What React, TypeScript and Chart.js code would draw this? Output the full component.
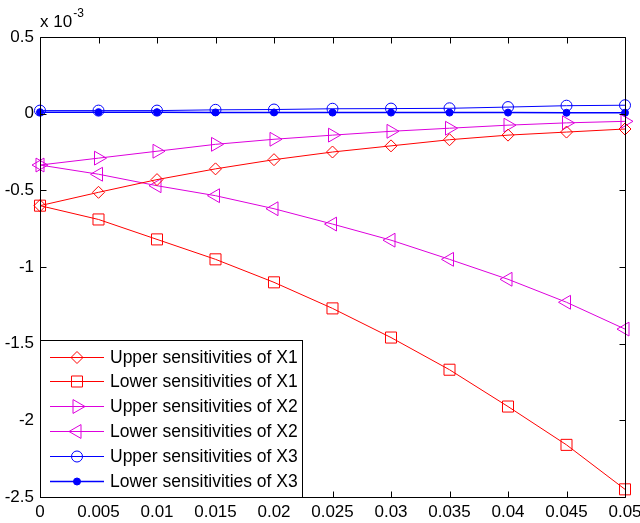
import React, { useEffect, useRef } from "react";
import { Chart, registerables } from "chart.js";
import { drawPoint } from "chart.js/helpers";

Chart.register(...registerables);

// x values (step sizes)
const xValues = [0, 0.005, 0.01, 0.015, 0.02, 0.025, 0.03, 0.035, 0.04, 0.045, 0.05];
// y values in units of 1e-3
const upperX1 = [-0.6, -0.513, -0.43, -0.36, -0.3, -0.25, -0.21, -0.17, -0.14, -0.12, -0.1];
const lowerX1 = [-0.6, -0.69, -0.82, -0.95, -1.1, -1.27, -1.46, -1.67, -1.91, -2.16, -2.45];
const upperX2 = [-0.335, -0.29, -0.245, -0.2, -0.167, -0.14, -0.115, -0.095, -0.075, -0.06, -0.05];
const lowerX2 = [-0.335, -0.395, -0.47, -0.535, -0.62, -0.72, -0.825, -0.95, -1.08, -1.23, -1.405];
const upperX3 = [0.02, 0.02, 0.02, 0.025, 0.027, 0.032, 0.033, 0.035, 0.043, 0.052, 0.055];
const lowerX3 = [0.01, 0.01, 0.01, 0.008, 0.008, 0.007, 0.007, 0.007, 0.007, 0.006, 0.006];

const seriesLabels = [
  "Upper sensitivities of X1",
  "Lower sensitivities of X1",
  "Upper sensitivities of X2",
  "Lower sensitivities of X2",
  "Upper sensitivities of X3",
  "Lower sensitivities of X3",
];

const xTicks = [0, 0.005, 0.01, 0.015, 0.02, 0.025, 0.03, 0.035, 0.04, 0.045, 0.05];
const yTicks = [-2.5, -2, -1.5, -1, -0.5, 0, 0.5];

const RED = "#ff0000";
const MAG = "#dd00dd";
const BLUE = "#0000ff";
const FONT = "'Liberation Sans', Arial, Helvetica, sans-serif";

const toPts = (ys: number[]) => ys.map((y, i) => ({ x: xValues[i], y }));

const framePlugin = {
  id: "frame",
  afterDatasetsDraw(chart: any) {
    const { ctx, chartArea: a, scales } = chart;
    ctx.save();
    ctx.strokeStyle = "#000";
    ctx.lineWidth = 1;
    ctx.beginPath();
    const L = Math.round(a.left) + 0.5;
    const R = Math.round(a.right) + 0.5;
    const T = Math.round(a.top) + 0.5;
    const B = Math.round(a.bottom) + 0.5;
    ctx.rect(L, T, R - L, B - T);
    const tl = 6;
    xTicks.forEach((v) => {
      const px = Math.round(scales.x.getPixelForValue(v)) + 0.5;
      ctx.moveTo(px, B);
      ctx.lineTo(px, B - tl);
      ctx.moveTo(px, T);
      ctx.lineTo(px, T + tl);
    });
    yTicks.forEach((v) => {
      const py = Math.round(scales.y.getPixelForValue(v)) + 0.5;
      ctx.moveTo(L, py);
      ctx.lineTo(L + tl, py);
      ctx.moveTo(R, py);
      ctx.lineTo(R - tl, py);
    });
    ctx.stroke();

    // exponent label
    ctx.fillStyle = "#000";
    ctx.textBaseline = "alphabetic";
    ctx.textAlign = "left";
    ctx.font = `17px ${FONT}`;
    ctx.fillText("x 10", a.left, 27);
    const w = ctx.measureText("x 10").width;
    ctx.font = `12px ${FONT}`;
    ctx.fillText("-3", a.left + w + 1, 17);
    ctx.restore();
  },
  afterDraw(chart: any) {
    const { ctx, chartArea: a } = chart;
    const ds = chart.data.datasets;
    ctx.save();
    const boxL = Math.round(a.left) + 0.5;
    const boxR = 302.5;
    const boxT = 340.5;
    const boxB = Math.round(a.bottom) + 0.5;
    ctx.fillStyle = "#fff";
    ctx.fillRect(boxL, boxT, boxR - boxL, boxB - boxT);
    ctx.strokeStyle = "#000";
    ctx.lineWidth = 1;
    ctx.strokeRect(boxL, boxT, boxR - boxL, boxB - boxT);
    const rowH = 24.9;
    const y0 = 356.5;
    ds.forEach((d: any, i: number) => {
      const y = Math.round(y0 + i * rowH) + 0.5;
      ctx.strokeStyle = d.borderColor;
      ctx.lineWidth = d.borderWidth;
      ctx.beginPath();
      ctx.moveTo(50, y);
      ctx.lineTo(104, y);
      ctx.stroke();
      ctx.strokeStyle = d.pointBorderColor;
      ctx.fillStyle = d.pointBackgroundColor;
      ctx.lineWidth = 1;
      drawPoint(
        ctx,
        {
          pointStyle: d.pointStyle,
          rotation: d.pointRotation || 0,
          radius: d.pointRadius,
          borderWidth: 1,
        } as any,
        77,
        y
      );
      ctx.fillStyle = "#000";
      ctx.font = `17.5px ${FONT}`;
      ctx.textAlign = "left";
      ctx.textBaseline = "middle";
      ctx.fillText(d.label, 110, y + 1);
    });
    ctx.restore();
  },
};

export default function App() {
  const ref = useRef<HTMLCanvasElement | null>(null);
  useEffect(() => {
    if (!ref.current) return;
    const mk = (
      label: string,
      data: number[],
      color: string,
      style: string,
      radius: number,
      rotation = 0,
      filled = false,
      lw = 1
    ) => ({
      label,
      data: toPts(data),
      borderColor: color,
      borderWidth: lw,
      pointStyle: style,
      pointRadius: radius,
      pointRotation: rotation,
      pointBorderColor: color,
      pointBorderWidth: 1,
      pointBackgroundColor: filled ? color : "rgba(0,0,0,0)",
      pointHoverRadius: radius,
      fill: false,
      tension: 0,
      clip: false as any,
    });
    const chart = new Chart(ref.current, {
      type: "line",
      data: {
        datasets: [
          mk(seriesLabels[0], upperX1, RED, "rectRot", 6),
          mk(seriesLabels[1], lowerX1, RED, "rect", 7.8),
          mk(seriesLabels[2], upperX2, MAG, "triangle", 8, 90),
          mk(seriesLabels[3], lowerX2, MAG, "triangle", 8, -90),
          mk(seriesLabels[4], upperX3, BLUE, "circle", 5.5),
          mk(seriesLabels[5], lowerX3, BLUE, "circle", 3.5, 0, true, 1.5),
        ] as any,
      },
      options: {
        responsive: false,
        animation: false,
        events: [],
        layout: { padding: { top: 37, right: 15, left: 0, bottom: 0 } },
        plugins: {
          legend: { display: false },
          tooltip: { enabled: false },
        },
        scales: {
          x: {
            type: "linear",
            min: 0,
            max: 0.05,
            afterBuildTicks: (s: any) => {
              s.ticks = xTicks.map((v) => ({ value: v }));
            },
            afterFit: (s: any) => {
              s.height = 26;
              s.paddingLeft = 0;
              s.paddingRight = 0;
            },
            grid: { display: false, drawTicks: false },
            border: { display: false },
            ticks: {
              padding: 5,
              color: "#000",
              font: { family: FONT, size: 17 },
              maxRotation: 0,
              autoSkip: false,
              callback: (v: any) => String(Number(Number(v).toFixed(4))),
            },
          },
          y: {
            type: "linear",
            min: -2.5,
            max: 0.5,
            afterBuildTicks: (s: any) => {
              s.ticks = yTicks.map((v) => ({ value: v }));
            },
            afterFit: (s: any) => {
              s.width = 40;
              s.paddingTop = 0;
              s.paddingBottom = 0;
            },
            grid: { display: false, drawTicks: false },
            border: { display: false },
            ticks: {
              padding: 6,
              color: "#000",
              font: { family: FONT, size: 17 },
              autoSkip: false,
              callback: (v: any) => String(Number(Number(v).toFixed(4))),
            },
          },
        },
      },
      plugins: [framePlugin],
    });
    return () => chart.destroy();
  }, []);
  return (
    <div style={{ position: "fixed", left: 0, top: 0, width: 640, height: 523, background: "#fff" }}>
      <canvas ref={ref} width={640} height={523} style={{ display: "block" }} />
    </div>
  );
}
